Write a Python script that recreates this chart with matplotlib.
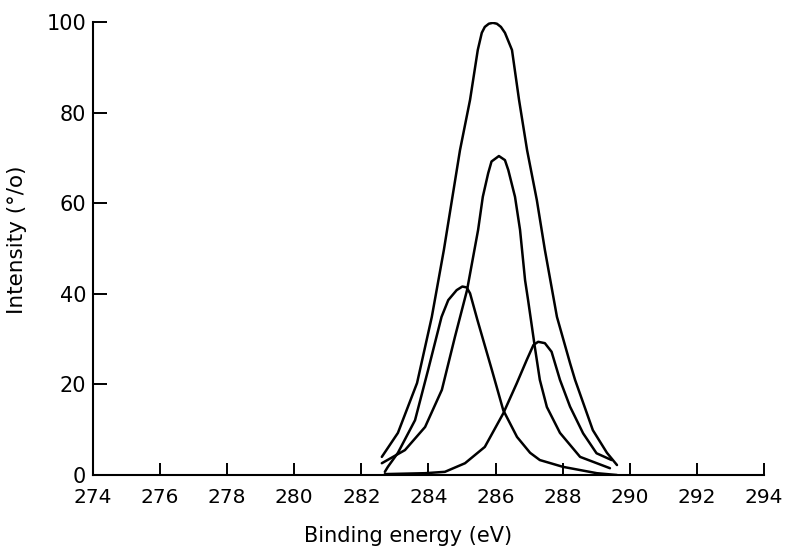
import matplotlib
matplotlib.use("Agg")
import matplotlib.pyplot as plt

# envelope (total) curve
env_x = [282.61, 283.09, 283.66, 284.10, 284.46, 284.70, 284.94, 285.24, 285.47, 285.59,
         285.68, 285.80, 285.92, 286.04, 286.16, 286.28, 286.49, 286.70, 286.94, 287.23,
         287.47, 287.83, 288.22, 288.37, 288.90, 289.32, 289.62]
env_y = [4.0, 9.3, 20.3, 34.9, 49.7, 60.7, 71.7, 82.8, 93.8, 97.6,
         98.9, 99.6, 99.8, 99.6, 98.9, 97.6, 93.8, 82.8, 71.7, 60.7,
         49.7, 34.9, 24.7, 21.0, 9.9, 4.9, 2.2]

# middle peak (~70 %)
mid_x = [282.61, 283.30, 283.90, 284.40, 284.79, 285.15, 285.48, 285.62, 285.78,
         285.88, 286.10, 286.28, 286.38, 286.58, 286.73, 286.88, 286.97, 287.17, 287.32,
         287.53, 287.92, 288.52, 289.41]
mid_y = [2.6, 5.5, 10.6, 18.8, 30.5, 40.8, 54.1, 61.4, 66.6,
         69.2, 70.4, 69.5, 67.3, 61.4, 54.1, 43.0, 38.6, 28.3, 21.0,
         15.0, 9.3, 4.0, 1.5]

# low energy component (~41 %)
low_x = [282.70, 282.79, 283.09, 283.60, 283.99, 284.39, 284.59, 284.84, 285.01,
         285.14, 285.24, 285.46, 285.89, 286.23, 286.64, 287.03, 287.32, 288.01, 289.02,
         289.62]
low_y = [0.7, 1.8, 4.9, 12.1, 23.2, 34.9, 38.6, 40.8, 41.6,
         41.4, 40.1, 34.2, 23.2, 14.3, 8.4, 4.9, 3.3, 1.8, 0.4,
         0.0]

# high energy component (~29 %)
high_x = [282.70, 283.90, 284.49, 285.09, 285.68, 286.23, 286.63, 286.93, 287.13, 287.27,
          287.47, 287.67, 287.92, 288.22, 288.61, 289.01, 289.46]
high_y = [0.2, 0.4, 0.7, 2.6, 6.2, 13.6, 20.2, 25.4, 28.7, 29.4,
          29.1, 27.2, 21.0, 15.1, 9.2, 4.8, 3.3]

xticks = list(range(274, 295, 2))
yticks = [0, 20, 40, 60, 80, 100]

fig = plt.figure(figsize=(7.9, 5.48), dpi=100)
ax = fig.add_axes([0.1177, 0.1332, 0.8493, 0.8268])

for xs, ys in [(env_x, env_y), (mid_x, mid_y), (low_x, low_y), (high_x, high_y)]:
    ax.plot(xs, ys, color="black", lw=1.8, solid_joinstyle="round", solid_capstyle="round")

ax.set_xlim(274, 294)
ax.set_ylim(0, 100)
ax.set_xticks(xticks)
ax.set_yticks(yticks)
ax.spines["top"].set_visible(False)
ax.spines["right"].set_visible(False)
ax.spines["left"].set_linewidth(1.5)
ax.spines["bottom"].set_linewidth(1.5)
ax.tick_params(axis="x", direction="in", length=9, width=1.4, labelsize=14.5, pad=9)
ax.tick_params(axis="y", direction="in", length=10, width=1.4, labelsize=15, pad=5)

ax.set_xlabel("Binding energy (eV)", fontsize=15)
ax.xaxis.set_label_coords(0.47, -0.112)
ax.set_ylabel("Intensity (°/o)", fontsize=15.5)
ax.yaxis.set_label_coords(-0.098, 0.52)

fig.savefig("out.png", dpi=100)
